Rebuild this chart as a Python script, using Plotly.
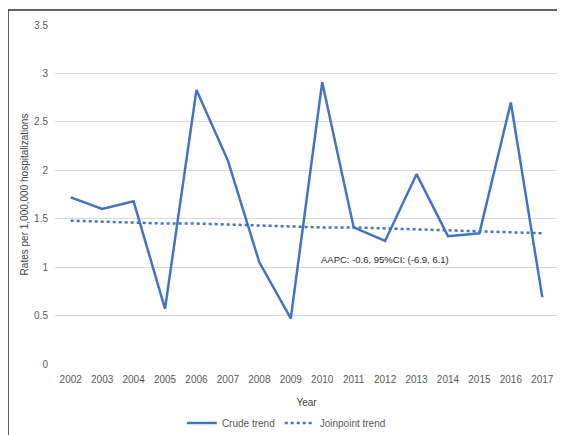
import plotly.graph_objects as go

years = [2002, 2003, 2004, 2005, 2006, 2007, 2008, 2009, 2010, 2011, 2012, 2013, 2014, 2015, 2016, 2017]
crude_trend = [1.72, 1.60, 1.68, 0.57, 2.83, 2.10, 1.05, 0.47, 2.91, 1.41, 1.27, 1.96, 1.32, 1.35, 2.70, 0.69]
joinpoint_trend = [1.48, 1.47, 1.46, 1.45, 1.45, 1.44, 1.43, 1.42, 1.41, 1.41, 1.40, 1.39, 1.38, 1.37, 1.36, 1.35]
annotation_text = "AAPC: -0.6, 95%CI: (-6.9, 6.1)"

blue = "#4472C4"
grey_text = "#595959"
font_family = "Liberation Sans, Arial, sans-serif"

fig = go.Figure()
fig.add_trace(go.Scatter(x=years, y=crude_trend, mode="lines", name="Crude trend",
                         line=dict(color=blue, width=2.5)))
fig.add_trace(go.Scatter(x=years, y=joinpoint_trend, mode="lines", name="Joinpoint trend",
                         line=dict(color=blue, width=2.5, dash="dot")))

fig.add_annotation(x=2012, y=1.08, text=annotation_text, showarrow=False,
                   font=dict(size=9.5, color="#262626", family=font_family))

# outer frame (only top and left edges visible in the reference)
fig.add_shape(type="rect", xref="paper", yref="paper", x0=-0.0934, x1=1.2, y0=-0.5, y1=1.044,
              line=dict(color="#333333", width=1.5), fillcolor="rgba(0,0,0,0)", layer="below")

fig.update_layout(
    width=557, height=427,
    margin=dict(l=47, r=7, t=17, b=71, autoexpand=False),
    paper_bgcolor="white", plot_bgcolor="white",
    font=dict(family=font_family, size=10, color=grey_text),
    showlegend=True,
    legend=dict(orientation="h", x=0.46, xanchor="center", y=-0.174, yanchor="middle",
                font=dict(size=10, color=grey_text), bgcolor="rgba(0,0,0,0)"),
    xaxis=dict(range=[2001.5, 2017.5], tickmode="array", tickvals=years,
               ticktext=[str(y) for y in years], showgrid=False, zeroline=False,
               showline=False, ticks="", ticklabelstandoff=8, automargin=False,
               title=dict(text="Year", standoff=14, font=dict(size=10, color="#404040")),
               tickfont=dict(size=10, color=grey_text)),
    yaxis=dict(range=[0, 3.5], dtick=0.5, tick0=0, showgrid=True, gridcolor="#D9D9D9",
               gridwidth=1, zeroline=False, showline=False, ticks="", ticklabelstandoff=6,
               automargin=False,
               title=dict(text="Rates per 1,000,000 hospitalizations", standoff=3,
                          font=dict(size=10, color="#404040")),
               tickfont=dict(size=10, color=grey_text)),
)

fig.write_html("out.html")
